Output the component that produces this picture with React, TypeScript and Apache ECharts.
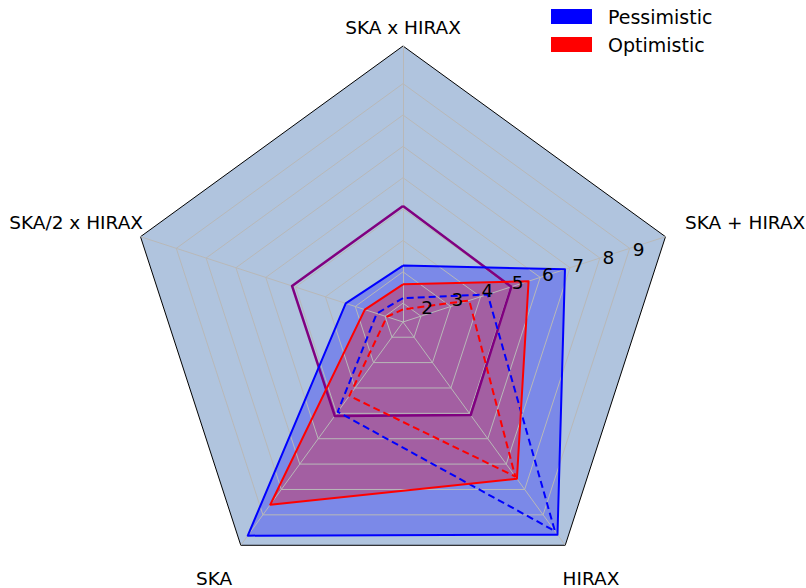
import React, { useEffect, useRef } from 'react';
import * as echarts from 'echarts';

// ---- data ----
const categories = ['SKA x HIRAX', 'SKA/2 x HIRAX', 'SKA', 'HIRAX', 'SKA + HIRAX'];
const pessimistic = [3.2, 3.32, 9.82, 9.78, 6.83];
const optimistic = [2.6, 2.68, 8.6, 7.58, 5.61];
const pessimisticDashed = [2.16, 2.28, 4.94, 9.64, 4.24];
const optimisticDashed = [1.8, 1.94, 4.31, 7.49, 3.62];
const reference = [5.1, 5.12, 5.1, 5.07, 5.03];
const gridValues = [2, 3, 4, 5, 6, 7, 8, 9];
const tickLabels = ['2', '3', '4', '5', '6', '7', '8', '9'];
const axisMin = 1.4;
const axisMax = 10.2;

const FONT = 'DejaVu Sans';

export default function App() {
  const ref = useRef<HTMLDivElement>(null);
  useEffect(() => {
    document.body.style.margin = '0';
    document.body.style.overflow = 'hidden';
    const chart = echarts.init(ref.current!, null, { renderer: 'svg' });
    const center = [403, 322];
    const radius = 276;
    const indicator = categories.map((name) => ({ name, min: axisMin, max: axisMax }));
    const hidden = {
      axisName: { show: false },
      axisTick: { show: false },
      axisLabel: { show: false },
    };
    const labelLayout = [
      { x: 403, y: 27, align: 'center' },
      { x: 143, y: 222, align: 'right' },
      { x: 214, y: 578, align: 'center' },
      { x: 591, y: 578, align: 'center' },
      { x: 685, y: 222, align: 'left' },
    ];
    const option: any = {
      animation: false,
      radar: [
        {
          center, radius, shape: 'polygon', startAngle: 90, splitNumber: 1, z: 0,
          indicator,
          ...hidden,
          axisLine: { show: false },
          splitLine: { show: true, lineStyle: { color: '#000000', width: 1 } },
          splitArea: { show: true, areaStyle: { color: ['#b0c4de'], opacity: 1 } },
        },
        {
          center, radius, shape: 'polygon', startAngle: 90, splitNumber: 1, z: 3,
          indicator,
          ...hidden,
          axisLine: { show: true, lineStyle: { color: '#b8b8b8', width: 1 } },
          splitLine: { show: false },
          splitArea: { show: false },
        },
        {
          center, radius, shape: 'polygon', startAngle: 15.4, splitNumber: 44, z: 6,
          indicator: categories.map((_, i) => ({
            name: '',
            min: axisMin,
            max: axisMax,
            axisLabel: i === 0
              ? {
                  show: true, color: '#000', fontSize: 18.5, fontFamily: FONT, margin: 0,
                  align: 'left', verticalAlign: 'bottom',
                  formatter: (v: number) => {
                    const k = gridValues.findIndex((g) => Math.abs(g - v) < 1e-6);
                    return k >= 0 ? tickLabels[k] : '';
                  },
                }
              : { show: false },
          })),
          axisName: { show: false },
          axisTick: { show: false },
          axisLabel: { show: false },
          axisLine: { show: false },
          splitLine: { show: false },
          splitArea: { show: false },
        },
      ],
      legend: {
        orient: 'vertical', left: 551, top: 7, padding: 0,
        itemWidth: 41, itemHeight: 15, itemGap: 9, icon: 'rect', selectedMode: false,
        itemStyle: { borderWidth: 0 },
        data: [
          { name: 'Pessimistic', itemStyle: { color: '#0000ff', opacity: 1 } },
          { name: 'Optimistic', itemStyle: { color: '#ff0000', opacity: 1 } },
        ],
        textStyle: { fontFamily: FONT, fontSize: 19, color: '#000', lineHeight: 15, padding: [0, 0, 0, 11] },
      },
      graphic: categories.map((name, i) => ({
        type: 'text', x: labelLayout[i].x, y: labelLayout[i].y, z: 10,
        style: {
          text: name, align: labelLayout[i].align, verticalAlign: 'middle',
          fontSize: 18.5, fontFamily: FONT, fill: '#000',
        },
      })),
      series: [
        {
          type: 'radar', radarIndex: 0, z: 1, symbol: 'none', silent: true,
          data: [
            { name: 'Pessimistic', value: pessimistic, itemStyle: { color: '#0000ff' },
              lineStyle: { opacity: 0 }, areaStyle: { color: '#0000ff', opacity: 0.3 } },
            { name: 'Optimistic', value: optimistic, itemStyle: { color: '#ff0000' },
              lineStyle: { opacity: 0 }, areaStyle: { color: '#ff0000', opacity: 0.3 } },
          ],
        },
        {
          type: 'radar', radarIndex: 0, z: 2, symbol: 'none', silent: true,
          data: gridValues.map((g) => ({
            name: 'grid ' + g, value: categories.map(() => g),
            lineStyle: { color: '#b8b8b8', width: 1 }, itemStyle: { color: '#b8b8b8' },
          })),
        },
        {
          type: 'radar', radarIndex: 0, z: 4, symbol: 'none', silent: true,
          data: [
            { name: 'Reference', value: reference, itemStyle: { color: '#800080' },
              lineStyle: { color: '#800080', width: 2.5 } },
            { name: 'Pessimistic (dashed)', value: pessimisticDashed, itemStyle: { color: '#0000ff' },
              lineStyle: { color: '#0000ff', width: 2, type: [7, 4] } },
            { name: 'Optimistic (dashed)', value: optimisticDashed, itemStyle: { color: '#ff0000' },
              lineStyle: { color: '#ff0000', width: 2, type: [7, 4] } },
            { name: 'Pessimistic line', value: pessimistic, itemStyle: { color: '#0000ff' },
              lineStyle: { color: '#0000ff', width: 2 } },
            { name: 'Optimistic line', value: optimistic, itemStyle: { color: '#ff0000' },
              lineStyle: { color: '#ff0000', width: 2 } },
          ],
        },
      ],
    };
    chart.setOption(option);
    return () => chart.dispose();
  }, []);
  return <div ref={ref} style={{ width: 806, height: 588 }} />;
}
